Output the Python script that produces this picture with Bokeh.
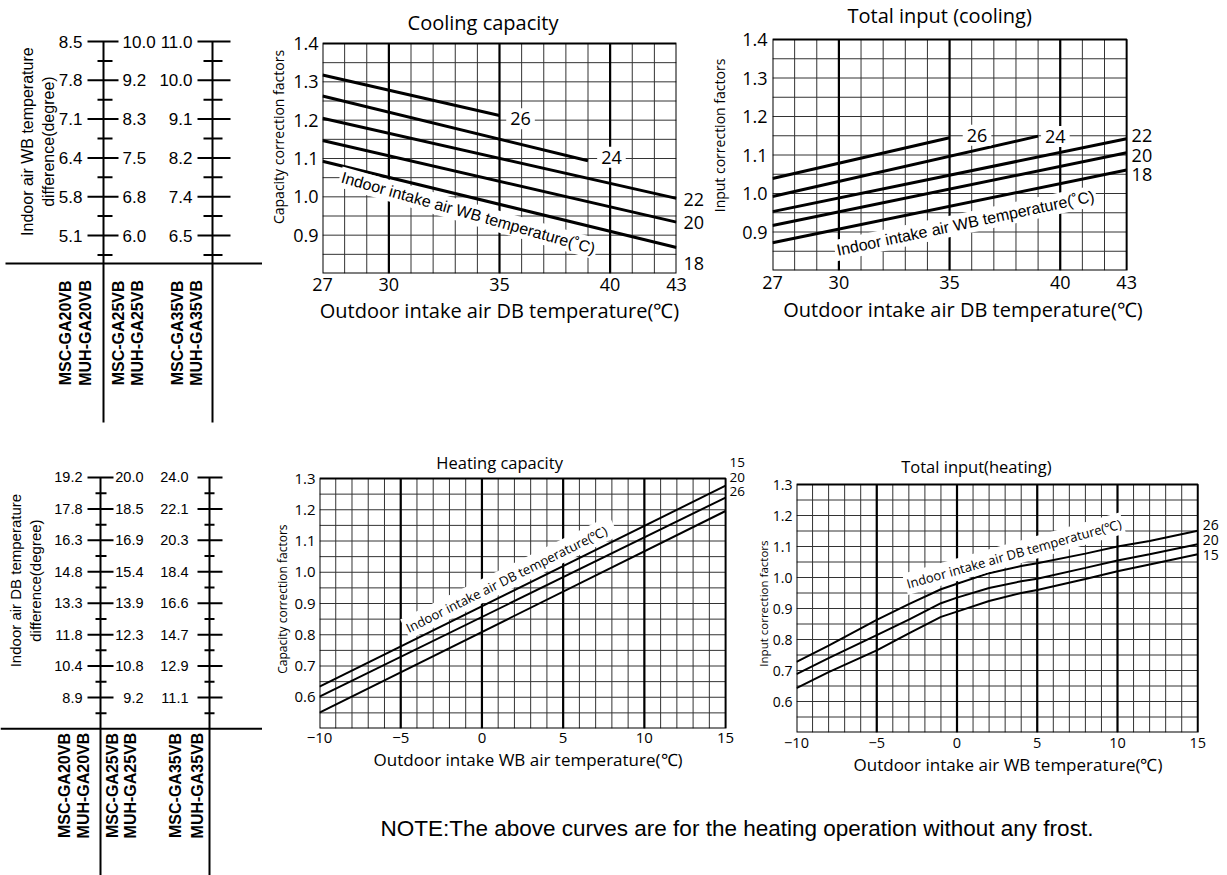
import numpy as np
from bokeh.plotting import figure
from bokeh.models import (Range1d, FixedTicker, Label, ColumnDataSource, PrintfTickFormatter,
                          LinearAxis)
from bokeh.layouts import row, column
from bokeh.embed import file_html
from bokeh.resources import INLINE
from bokeh.core.properties import value

# ======================= DATA =======================
# Nomogram scales (top: indoor WB temperature difference, bottom: indoor DB temperature difference)
wb_diff_ga20 = ["8.5", "7.8", "7.1", "6.4", "5.8", "5.1"]
wb_diff_ga25 = ["10.0", "9.2", "8.3", "7.5", "6.8", "6.0"]
wb_diff_ga35 = ["11.0", "10.0", "9.1", "8.2", "7.4", "6.5"]
db_diff_ga20 = ["19.2", "17.8", "16.3", "14.8", "13.3", "11.8", "10.4", "8.9"]
db_diff_ga25 = ["20.0", "18.5", "16.9", "15.4", "13.9", "12.3", "10.8", "9.2"]
db_diff_ga35 = ["24.0", "22.1", "20.3", "18.4", "16.6", "14.7", "12.9", "11.1"]
model_names = ["MSC-GA20VB", "MUH-GA20VB", "MSC-GA25VB", "MUH-GA25VB", "MSC-GA35VB", "MUH-GA35VB"]

# Cooling charts: indoor WB temperature curves (outdoor DB 27..43 degC)
cool_wb = ["18", "20", "22", "24", "26"]
cool_x_start = [27, 27, 27, 27, 27]
cool_x_end = [43, 43, 43, 39, 35]
cool_cap_start = [1.093, 1.147, 1.205, 1.263, 1.318]
cool_cap_end = [0.868, 0.934, 0.996, 1.094, 1.212]
cool_inp_start = [0.872, 0.917, 0.953, 0.992, 1.039]
cool_inp_end = [1.061, 1.106, 1.142, 1.149, 1.145]

# Heating capacity: indoor DB temperature lines (outdoor WB -10..15 degC)
heat_db = ["15", "20", "26"]
heat_cap_x = [-10, 15]
heat_cap_15 = [0.634, 1.277]
heat_cap_20 = [0.602, 1.239]
heat_cap_26 = [0.551, 1.196]

# Total input (heating)
heat_inp_x = [-10, -8, -5, -3, -1, 0, 2, 4, 5, 8, 10, 12, 15]
heat_inp_26 = [0.728, 0.780, 0.863, 0.914, 0.962, 0.980, 1.014, 1.037, 1.046, 1.077, 1.100, 1.118, 1.151]
heat_inp_20 = [0.688, 0.740, 0.814, 0.864, 0.917, 0.935, 0.966, 0.988, 0.996, 1.031, 1.055, 1.075, 1.107]
heat_inp_15 = [0.643, 0.695, 0.765, 0.820, 0.873, 0.890, 0.924, 0.950, 0.960, 0.995, 1.020, 1.042, 1.075]

# Axis ticks / chart extents
cool_xticks = [27, 30, 35, 40, 43]
cool_yticks = [0.9, 1.0, 1.1, 1.2, 1.3, 1.4]
heat_xticks = [-10, -5, 0, 5, 10, 15]
heat_yticks = [0.6, 0.7, 0.8, 0.9, 1.0, 1.1, 1.2, 1.3]
cool_extent = (27, 43, 0.8, 1.4)
heat_extent = (-10, 15, 0.5, 1.3)

TITLES = ["Cooling capacity", "Total input (cooling)", "Heating capacity", "Total input(heating)"]
NOTE = "NOTE:The above curves are for the heating operation without any frost."

# ======================= STYLE / HELPERS =======================
SANS = "Open Sans"
ARIAL = "Liberation Sans"
NOMO_W = 262


def no_align(p):
    if "frame_align" in p.properties():
        p.frame_align = False
    return p


def blank_fig(width, height, xr=None, yr=None):
    xr = xr if xr is not None else (0, width)
    yr = yr if yr is not None else (height, 0)
    p = figure(width=width, height=height, x_range=Range1d(*xr), y_range=Range1d(*yr),
               output_backend="svg", toolbar_location=None, tools="",
               x_axis_location=None, y_axis_location=None, min_border=0)
    p.grid.visible = False
    p.outline_line_color = None
    p.background_fill_color = "white"
    p.border_fill_color = "white"
    return no_align(p)


def nomogram(height, idx_range, axis_x, line_end, major_ext, minor_ext, sep_idx, sep_x0,
             cols, col_x, col_align, label_fs, names_x, names_idx,
             title_lines, title_x, title_idx, title_fs):
    p = blank_fig(NOMO_W, height, (0, NOMO_W), idx_range)
    n = len(cols[0])
    idx = list(range(n))
    mid = [i + 0.5 for i in idx]
    p.segment(x0=axis_x, y0=[0, 0], x1=axis_x, y1=[line_end, line_end],
              line_width=2, line_color="black")
    for (a0, a1), (m0, m1) in zip(major_ext, minor_ext):
        p.segment(x0=[a0] * n, y0=idx, x1=[a1] * n, y1=idx, line_width=2, line_color="black")
        p.segment(x0=[m0] * n, y0=mid, x1=[m1] * n, y1=mid, line_width=2, line_color="black")
    p.segment(x0=[sep_x0], y0=[sep_idx], x1=[NOMO_W], y1=[sep_idx], line_width=2, line_color="black")
    for labels, x, align in zip(cols, col_x, col_align):
        p.text(x=[x] * n, y=idx, text=labels, text_align=align, text_baseline="middle",
               text_font=value(ARIAL), text_font_size=label_fs, text_color="black")
    p.text(x=names_x, y=[names_idx] * len(names_x), text=model_names, angle=np.pi / 2,
           text_align="center", text_baseline="middle", text_font=value(ARIAL),
           text_font_size="16px", text_font_style="bold", text_color="black")
    p.text(x=title_x, y=[title_idx] * len(title_x), text=title_lines, angle=np.pi / 2,
           text_align="center", text_baseline="middle", text_font=value(ARIAL),
           text_font_size=title_fs, text_color="black")
    return p


def style_axis(ax, fs, standoff):
    ax.axis_line_color = None
    ax.major_tick_line_color = None
    ax.minor_tick_line_color = None
    ax.major_tick_out = 0
    ax.major_tick_in = 0
    ax.minor_tick_out = 0
    ax.minor_tick_in = 0
    ax.major_label_standoff = standoff
    ax.major_label_text_font = SANS
    ax.major_label_text_font_size = fs
    ax.major_label_text_color = "black"
    ax.axis_label_text_font = SANS
    ax.axis_label_text_font_style = "normal"
    ax.axis_label_text_color = "black"


def chart(origin, size, frame_px, box_px, extent, xticks, yticks, minor_step_y, bold_x,
          tick_fs, xlabel, xlabel_fs, x_std, x_lab_std, y_std, ytick_fs=None):
    """frame_px / box_px = (left, right, top, bottom) in page pixels. The frame may reach
    beyond the gridded box so that titles and side labels can sit inside it."""
    ox, oy = origin
    W, H = size
    fl, fr, ft, fb = frame_px
    bl, br, bt, bb = box_px
    x0, x1, y0, y1 = extent
    sx = (br - bl) / (x1 - x0)
    sy = (bb - bt) / (y1 - y0)
    xr = (x0 - (bl - fl) / sx, x1 + (fr - br) / sx)
    yr = (y0 - (fb - bb) / sy, y1 + (bt - ft) / sy)

    def to_x(px):
        return x0 + (px - bl) / sx

    def to_y(py):
        return y0 + (bb - py) / sy

    p = figure(width=W, height=H, x_range=Range1d(*xr), y_range=Range1d(*yr),
               output_backend="svg", toolbar_location=None, tools="",
               min_border_left=fl - ox, min_border_right=ox + W - fr,
               min_border_top=ft - oy, min_border_bottom=oy + H - fb)
    no_align(p)
    p.background_fill_color = "white"
    p.border_fill_color = "white"
    p.outline_line_color = None
    p.grid.visible = False
    p.xaxis.ticker = FixedTicker(ticks=xticks)
    p.yaxis.ticker = FixedTicker(ticks=yticks)
    p.yaxis.formatter = PrintfTickFormatter(format="%.1f")
    style_axis(p.xaxis[0], tick_fs, x_std)
    style_axis(p.yaxis[0], ytick_fs or tick_fs, y_std)
    p.xaxis.axis_label = xlabel
    p.xaxis.axis_label_text_font_size = xlabel_fs
    p.xaxis.axis_label_standoff = x_lab_std

    # grid of the chart box
    gx = list(range(int(x0) + 1, int(x1)))
    n_y = int(round((y1 - y0) / minor_step_y))
    gy = [round(y0 + k * minor_step_y, 3) for k in range(1, n_y)]
    p.segment(x0=gx, y0=[y0] * len(gx), x1=gx, y1=[y1] * len(gx),
              line_color="#333333", line_width=1)
    p.segment(x0=[x0] * len(gy), y0=gy, x1=[x1] * len(gy), y1=gy,
              line_color="#333333", line_width=1)
    p.segment(x0=bold_x, y0=[y0] * len(bold_x), x1=bold_x, y1=[y1] * len(bold_x),
              line_color="black", line_width=2.2)
    p.quad(left=[x0], right=[x1], bottom=[y0], top=[y1], fill_color=None,
           line_color="black", line_width=2)
    return p, to_x, to_y


def y_title(p, text, fs, standoff, at=None, lab_standoff=None):
    """Vertical axis title: the y axis label, or (at=y) a second left axis whose one
    label ends at that height."""
    if at is None:
        p.yaxis.axis_label = text
        p.yaxis.axis_label_text_font_size = fs
        p.yaxis.axis_label_standoff = lab_standoff
        return
    ax = LinearAxis(ticker=FixedTicker(ticks=[at]), major_label_overrides={at: text},
                    major_label_orientation=np.pi / 2)
    style_axis(ax, fs, standoff)
    p.add_layout(ax, "left")


def right_labels(p, ys, texts, fs, standoff):
    ax = LinearAxis(ticker=FixedTicker(ticks=ys),
                    major_label_overrides={y: t for y, t in zip(ys, texts)})
    style_axis(ax, fs, standoff)
    p.add_layout(ax, "right")


def add_label(p, x, y, text, fs, font=SANS, angle=0.0, bg=None, align="center", pad=0):
    kw = {}
    if bg is not None:
        kw = dict(background_fill_color=bg, background_fill_alpha=1.0, padding=pad)
    p.add_layout(Label(x=x, y=y, text=text, angle=angle, text_align=align,
                       text_baseline="middle", text_font=font, text_font_size=fs,
                       text_color="black", **kw))


# ======================= NOMOGRAMS =======================
nomo_top = nomogram(
    445, (10.412, -1.057), [103, 212], 9.82,
    [(87, 118), (197, 230)], [(97, 112), (203, 222)], 5.72, 5,
    [wb_diff_ga20, wb_diff_ga25, wb_diff_ga35], [82, 122, 192], ["right", "left", "right"], "17px",
    [65, 85, 118, 137, 177, 196], 7.51,
    ["Indoor air WB temperature", "difference(degree)"], [27, 48], 2.58, "16px")

nomo_bot = nomogram(
    430, (12.663, -1.018), [100, 209], 12.7,
    [(87, 113), (197, 222)], [(95, 106), (204, 214)], 7.99, 0,
    [db_diff_ga20, db_diff_ga25, db_diff_ga35], [82, 143, 188], ["right", "right", "right"], "14.5px",
    [64, 83, 112, 130, 175, 197], 9.80,
    ["Indoor air DB temperature", "difference(degree)"], [15, 35], 3.28, "15px")

# ======================= COOLING CAPACITY =======================
cc, ccx, ccy = chart((NOMO_W, 0), (707 - NOMO_W, 445), (322, 677, 0, 273), (322, 677, 43, 273),
                     cool_extent, cool_xticks, cool_yticks, 0.05, [30, 35, 40], "18px",
                     "Outdoor intake air DB temperature(℃)", "20px", 4, 3, 4)
y_title(cc, "Capacity correction factors", "14px", 4, lab_standoff=2)
cc.segment(x0="x0", y0="y0", x1="x1", y1="y1", line_width=3, line_color="black",
           source=ColumnDataSource(dict(x0=cool_x_start, y0=cool_cap_start, x1=cool_x_end, y1=cool_cap_end)))
add_label(cc, ccx(483), ccy(22), TITLES[0], "20px")
add_label(cc, 35.95, 1.204, cool_wb[4], "18px", bg="white", pad=4)
add_label(cc, 40.06, 1.103, cool_wb[3], "18px", bg="white", pad=4)
right_labels(cc, [ccy(263), ccy(222), ccy(199)], cool_wb[:3], "18px", 7)
add_label(cc, 33.59, 0.958, "Indoor intake air WB temperature(˚C)", "16px", font=ARIAL,
          angle=-0.276, bg="white", pad=2)

# ======================= TOTAL INPUT (COOLING) =======================
ci, cix, ciy = chart((707, 0), (520, 445), (770, 1153, 0, 270), (770, 1126, 39, 270), cool_extent,
                     cool_xticks, cool_yticks, 0.05, [30, 35, 40], "18px",
                     "Outdoor intake air DB temperature(℃)", "20px", 5, 4, 5)
y_title(ci, "Input correction factors", "14px", 5, lab_standoff=10)
ci.segment(x0="x0", y0="y0", x1="x1", y1="y1", line_width=3, line_color="black",
           source=ColumnDataSource(dict(x0=cool_x_start, y0=cool_inp_start, x1=cool_x_end, y1=cool_inp_end)))
add_label(ci, cix(938), ciy(14.5), TITLES[1], "20px")
add_label(ci, 36.24, 1.151, cool_wb[4], "18px", bg="white", pad=4)
add_label(ci, 39.78, 1.148, cool_wb[3], "18px", bg="white", pad=4)
for txt, py in zip(cool_wb[:3], [174, 155, 135]):
    add_label(ci, cix(1131), ciy(py), txt, "18px", align="left")
add_label(ci, 35.72, 0.923, "Indoor intake air WB temperature(˚C)", "16px", font=ARIAL,
          angle=0.209, bg="white", pad=2)

# ======================= HEATING CAPACITY =======================
hc, hcx, hcy = chart((NOMO_W, 445), (745 - NOMO_W, 345), (317, 745, 445, 728), (317, 725, 478, 728),
                     heat_extent, heat_xticks, heat_yticks, 0.05, [-5, 0, 5, 10], "15px",
                     "Outdoor intake  WB  air temperature(℃)", "17px", 4, 2, 4)
y_title(hc, "Capacity correction factors", "12px", 9, at=hcy(524))
for ys in (heat_cap_15, heat_cap_20, heat_cap_26):
    hc.line(heat_cap_x, ys, line_width=2, line_color="black")
add_label(hc, hcx(498), hcy(461.7), TITLES[2], "16.5px")
for txt, py in zip(heat_db, [462, 477, 491]):
    add_label(hc, hcx(729), hcy(py), txt, "13.5px", align="left")
add_label(hc, 1.70, 0.983, "Indoor intake air  DB  temperature(℃)", "13px",
          angle=0.461, bg="white", pad=2)

# ======================= TOTAL INPUT (HEATING) =======================
hi, hix, hiy = chart((745, 445), (482, 345), (791, 1219, 445, 732), (791, 1197, 484, 732), heat_extent,
                     heat_xticks, heat_yticks, 0.05, [-5, 0, 5, 10], "14.5px",
                     "Outdoor intake air WB temperature(℃)", "17px", 5, 2, 4, ytick_fs="14px")
y_title(hi, "Input correction factors", "11.5px", 6, at=hiy(540))
for ys in (heat_inp_15, heat_inp_20, heat_inp_26):
    hi.line(heat_inp_x, ys, line_width=2, line_color="black")
add_label(hi, hix(973), hiy(465.7), TITLES[3], "16.5px")
for txt, py in zip(heat_db, [554, 539, 524]):
    add_label(hi, hix(1202), hiy(py), txt, "14px", align="left")
add_label(hi, 3.55, 1.077, "Indoor intake air DB temperature(℃)", "13px",
          angle=0.276, bg="white", pad=2)

# ======================= NOTE =======================
note = blank_fig(1227 - NOMO_W, 85)
add_label(note, 380 - NOMO_W, 38, NOTE, "22.5px", font=ARIAL, align="left")

left_col = column(nomo_top, nomo_bot)
row_a = row(column(cc), column(ci))
row_b = row(column(hc), column(hi))
right_col = column(row_a, row_b, note)
layout = row(left_col, right_col)

open("out.html", "w").write(file_html(layout, INLINE))
